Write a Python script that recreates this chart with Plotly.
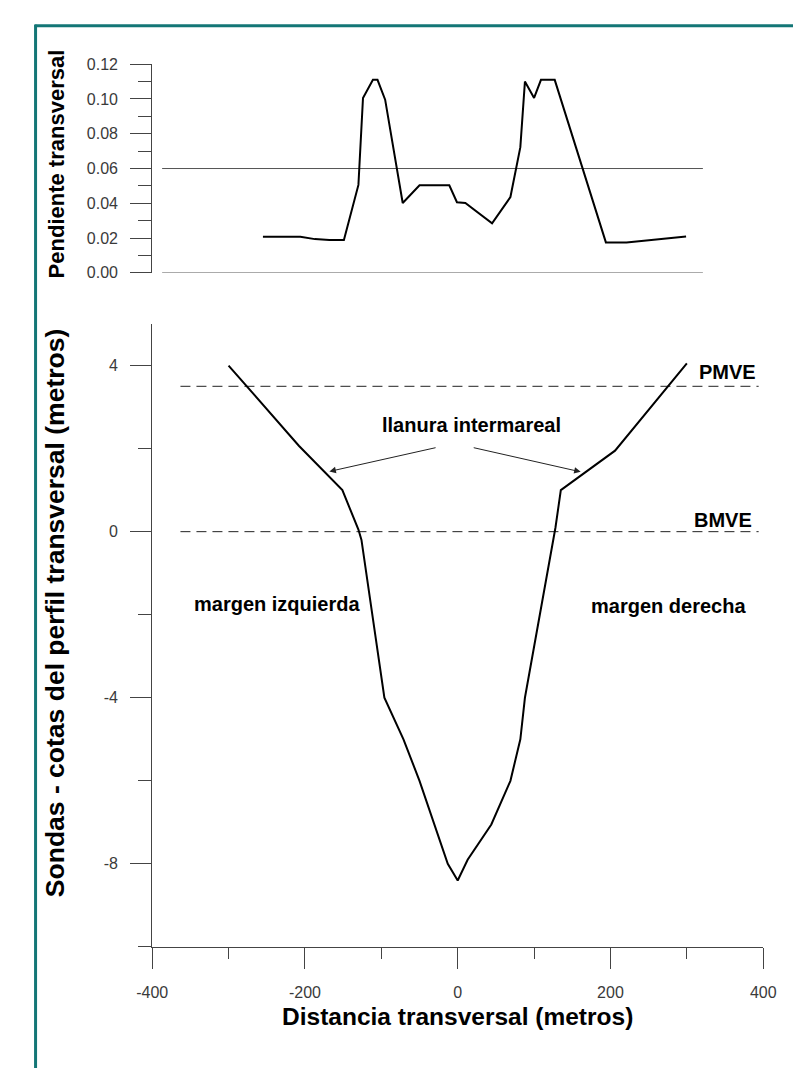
import plotly.graph_objects as go

# ---------------- data ----------------
# upper panel: transverse slope
slope_x = [-255, -206, -187, -168, -149, -130, -124, -111, -105, -95, -72, -50, -11, -1,
           10, 45, 69, 82, 88, 100, 109, 127, 194, 221, 299]
slope_y = [0.0208, 0.0208, 0.0194, 0.0189, 0.0189, 0.0506, 0.1006, 0.111, 0.111, 0.0996,
           0.0402, 0.0504, 0.0504, 0.0406, 0.0402, 0.0285, 0.0436, 0.0723, 0.110, 0.1006,
           0.111, 0.111, 0.0175, 0.0175, 0.0209]
slope_ref_x = [-387, 321]
slope_ref_levels = [0.0, 0.06]

# lower panel: cross-section profile
depth_x = [-300, -208, -151, -130, -126, -96, -71, -50, -13, 0, 13, 44, 69, 82, 88, 128, 135, 206, 300]
depth_y = [4.0, 2.07, 1.0, 0.05, -0.2, -4.0, -5.0, -6.0, -8.0, -8.4, -7.9, -7.05, -6.0, -5.0,
           -4.0, 0.1, 1.0, 1.95, 4.05]

tide_names = ["PMVE", "BMVE"]
tide_levels = [3.5, 0.0]
tide_x = [-363, 394]

y_top_ticks = [0.00, 0.02, 0.04, 0.06, 0.08, 0.10, 0.12]
x_ticks = [-400, -200, 0, 200, 400]
x_ticklabels = ["-400", "-200", "0", "200", "400"]
y_bot_ticks = [-8, -4, 0, 4]
y_bot_ticklabels = ["-8", "-4", "0", "4"]

# ---------------- layout helpers ----------------
W, H = 801, 1068
def fx(px):
    return px / W
def fy(py):
    return 1 - py / H

AX = "#444444"
TXT = "#3a3a3a"
BOLD = "Liberation Sans, Arial, sans-serif"
TICKF = dict(family="Liberation Sans, Arial, sans-serif", size=16, color=TXT)

fig = go.Figure()

# upper panel reference lines
for lv in slope_ref_levels:
    fig.add_trace(go.Scatter(x=slope_ref_x, y=[lv, lv], mode="lines",
                             line=dict(color="#555555", width=1),
                             xaxis="x2", yaxis="y2", hoverinfo="skip", showlegend=False))
fig.add_trace(go.Scatter(x=slope_x, y=slope_y, mode="lines",
                         line=dict(color="black", width=2),
                         xaxis="x2", yaxis="y2", showlegend=False))

# lower panel tide levels
for lv in tide_levels:
    fig.add_trace(go.Scatter(x=tide_x, y=[lv, lv], mode="lines",
                             line=dict(color="#222222", width=1, dash="10px,6px"),
                             xaxis="x", yaxis="y", hoverinfo="skip", showlegend=False))
fig.add_trace(go.Scatter(x=depth_x, y=depth_y, mode="lines",
                         line=dict(color="black", width=2),
                         xaxis="x", yaxis="y", showlegend=False))

common_axis = dict(showline=True, linecolor=AX, linewidth=1, ticks="outside",
                   tickcolor=AX, tickwidth=1, showgrid=False, zeroline=False,
                   tickfont=TICKF)

fig.update_layout(
    width=W, height=H, autosize=False,
    margin=dict(l=0, r=0, t=0, b=0),
    paper_bgcolor="white", plot_bgcolor="white",
    showlegend=False,
    xaxis=dict(domain=[fx(133), fx(767)], range=[-400, 400], anchor="y",
               tickvals=x_ticks, ticktext=x_ticklabels, ticklen=21, ticklabelstandoff=10,
               minor=dict(ticks="outside", ticklen=11, dtick=100, tick0=0, tickcolor=AX),
               **common_axis),
    yaxis=dict(domain=[fy(946), fy(313)], range=[-10, 5], anchor="x",
               tickvals=y_bot_ticks, ticktext=y_bot_ticklabels, ticklen=21, ticklabelstandoff=9,
               minor=dict(ticks="outside", ticklen=13, dtick=2, tick0=0, tickcolor=AX),
               **common_axis),
    xaxis2=dict(domain=[fx(133), fx(767)], range=[-400, 400], anchor="y2", visible=False),
    yaxis2=dict(domain=[fy(261), fy(49)], range=[0, 0.12], anchor="x2",
                tickvals=y_top_ticks, tickformat=".2f", ticklen=21, ticklabelstandoff=9,
                minor=dict(ticks="outside", ticklen=13, dtick=0.01, tick0=0, tickcolor=AX),
                **common_axis),
)

ann = []
# axis titles
ann.append(dict(text="<b>Pendiente transversal</b>", x=fx(34), y=fy(150), xref="paper", yref="paper",
                textangle=-90, showarrow=False, xanchor="center", yanchor="middle",
                font=dict(family=BOLD, size=22, color="black")))
ann.append(dict(text="<b>Sondas - cotas del perfil transversal (metros)</b>", x=fx(33), y=fy(607),
                xref="paper", yref="paper", textangle=-90, showarrow=False,
                xanchor="center", yanchor="middle",
                font=dict(family=BOLD, size=26.5, color="black")))
ann.append(dict(text="<b>Distancia transversal (metros)</b>", x=fx(450), y=fy(1017),
                xref="paper", yref="paper", showarrow=False, xanchor="center", yanchor="middle",
                font=dict(family=BOLD, size=24.5, color="black")))

# labels inside lower panel
lab = dict(xref="x", yref="y", showarrow=False, yanchor="middle",
           font=dict(family=BOLD, size=20, color="black"))
ann.append(dict(text="<b>llanura intermareal</b>", x=18, y=2.56, xanchor="center", **lab))
ann.append(dict(text="<b>" + tide_names[0] + "</b>", x=393, y=3.84, xanchor="right", **lab))
ann.append(dict(text="<b>" + tide_names[1] + "</b>", x=388, y=0.29, xanchor="right", **lab))
ann.append(dict(text="<b>margen izquierda</b>", x=-236, y=-1.74, xanchor="center", **lab))
ann.append(dict(text="<b>margen derecha</b>", x=276, y=-1.8, xanchor="center", **lab))

# arrows
arrow = dict(xref="x", yref="y", axref="x", ayref="y", text="", showarrow=True,
             arrowhead=2, arrowsize=1.3, arrowwidth=1, arrowcolor="#222222")
ann.append(dict(x=-168, y=1.45, ax=-27, ay=2.03, **arrow))
ann.append(dict(x=161, y=1.44, ax=19, ay=2.03, **arrow))

fig.update_layout(annotations=ann)

# teal frame (top and left edges visible)
fig.update_layout(shapes=[
    dict(type="line", xref="paper", yref="paper", x0=fx(11), x1=1.05, y0=fy(10), y1=fy(10),
         line=dict(color="#137676", width=3)),
    dict(type="line", xref="paper", yref="paper", x0=fx(12), x1=fx(12), y0=fy(9), y1=-0.05,
         line=dict(color="#137676", width=3)),
])

fig.write_html("out.html")
